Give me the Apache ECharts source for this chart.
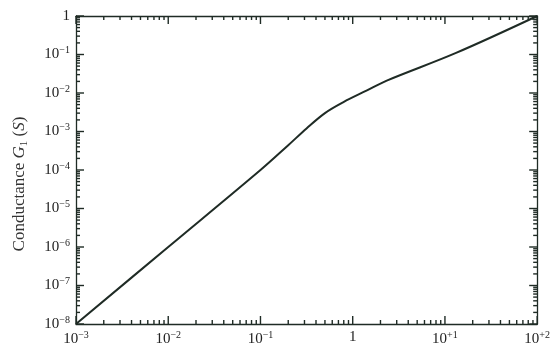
<!DOCTYPE html>
<html>
<head>
<meta charset="utf-8">
<script src="https://cdn.jsdelivr.net/npm/echarts@6/dist/echarts.min.js"></script>
<style>
html,body{margin:0;padding:0;background:#fff;}
#chart{width:553px;height:349px;}
</style>
</head>
<body>
<div id="chart"></div>
<script>
// Frequency (x) and conductance G1 (y)
const frequency   = [0.001, 0.01, 0.1, 0.2, 0.316, 0.5, 0.794, 1.41, 2.34, 13.2, 100];
const conductance = [1e-8, 1e-6, 1e-4, 4.4e-4, 1.2e-3, 3.0e-3, 5.8e-3, 1.15e-2, 2.1e-2, 0.11, 1.0];

// Tick labels (exponent part; '' means plain "1")
const xTickExps = ['−3', '−2', '−1', '', '+1', '+2'];
const yTickExps = ['−8', '−7', '−6', '−5', '−4', '−3', '−2', '−1', ''];
const yAxisTitle = 'Conductance ';

const X_MIN = 0.001, X_MAX = 100, Y_MIN = 1e-8, Y_MAX = 1;
const FONT = 'Liberation Serif';
const ink = '#1f2b25';

function decades(minExp, maxExp) {
  const out = [];
  for (let k = minExp; k <= maxExp; k++) out.push(Math.pow(10, k));
  return out;
}
// minor tick values 2..9 x 10^k inside each axis range
function minorValues(minExp, maxExp) {
  const out = [];
  for (let k = minExp; k < maxExp; k++) {
    for (let m = 2; m <= 9; m++) out.push(Number((m * Math.pow(10, k)).toPrecision(3)));
  }
  return out;
}
const xMajor = decades(-3, 2), yMajor = decades(-8, 0);
const xMinor = minorValues(-3, 2), yMinor = minorValues(-8, 0);

function expLabel(exps, minExp) {
  return function (v) {
    const k = Math.round(Math.log10(v)) - minExp;
    const e = exps[k];
    if (e === undefined) return '';
    if (e === '') return '{b|1}';
    return '{b|10}{s|' + e + '}';
  };
}
const rich = {
  b: { fontFamily: FONT, fontSize: 15, color: '#222' },
  s: { fontFamily: FONT, fontSize: 10, color: '#222', padding: [0, 0, 8, 0] }
};

function axis(pos, min, max, extra) {
  return Object.assign({
    type: 'log',
    logBase: 10,
    position: pos, min: min, max: max,
    axisLine: { show: true, lineStyle: { color: ink, width: 1.3 } },
    axisTick: { show: false },
    axisLabel: { show: false },
    minorTick: { show: false },
    splitLine: { show: false },
    minorSplitLine: { show: false }
  }, extra || {});
}

const chart = echarts.init(document.getElementById('chart'));
chart.setOption({
  animation: false,
  backgroundColor: '#fff',
  grid: { left: 76, right: 11, top: 16, bottom: 25, containLabel: false },
  xAxis: [
    axis('bottom', X_MIN, X_MAX, {
      axisLabel: { show: true, formatter: expLabel(xTickExps, -3), rich: rich, margin: 6, showMinLabel: true, showMaxLabel: true }
    }),
    axis('top', X_MIN, X_MAX)
  ],
  yAxis: [
    axis('left', Y_MIN, Y_MAX, {
      axisLabel: { show: true, formatter: expLabel(yTickExps, -8), rich: rich, margin: 6 }
    }),
    axis('right', Y_MIN, Y_MAX)
  ],
  series: [
    {
      type: 'line',
      xAxisIndex: 0, yAxisIndex: 0,
      data: frequency.map((f, i) => [f, conductance[i]]),
      smooth: 0.35,
      showSymbol: false,
      lineStyle: { color: ink, width: 2 }
    }
  ]
});

// Tick marks on all four sides, positioned through the axes' own scales
const px = v => chart.convertToPixel({ xAxisIndex: 0 }, v);
const py = v => chart.convertToPixel({ yAxisIndex: 0 }, v);
const xL = px(X_MIN), xR = px(X_MAX), yB = py(Y_MIN), yT = py(Y_MAX);
const tickStyle = { stroke: ink, lineWidth: 1.4 };
const elems = [];
function xTick(v, len) {
  const x = px(v);
  elems.push({ type: 'line', silent: true, z: 100, shape: { x1: x, y1: yB, x2: x, y2: yB - len }, style: tickStyle });
  elems.push({ type: 'line', silent: true, z: 100, shape: { x1: x, y1: yT, x2: x, y2: yT + len }, style: tickStyle });
}
function yTick(v, len) {
  const y = py(v);
  elems.push({ type: 'line', silent: true, z: 100, shape: { x1: xL, y1: y, x2: xL + len, y2: y }, style: tickStyle });
  elems.push({ type: 'line', silent: true, z: 100, shape: { x1: xR, y1: y, x2: xR - len, y2: y }, style: tickStyle });
}
xMajor.forEach(v => xTick(v, 8));
xMinor.forEach(v => xTick(v, 4));
yMajor.forEach(v => yTick(v, 8));
yMinor.forEach(v => yTick(v, 4));

elems.push({
  type: 'text',
  x: 20, y: 184,
  rotation: Math.PI / 2,
  style: {
    text: '{n|' + yAxisTitle + '}{i|G}{sub|1}{n| (}{i|S}{n|)}',
    align: 'center', verticalAlign: 'middle',
    rich: {
      n: { fontFamily: FONT, fontSize: 17, fill: '#333' },
      i: { fontFamily: FONT, fontSize: 17, fontStyle: 'italic', fill: '#333' },
      sub: { fontFamily: FONT, fontSize: 11, fill: '#333', padding: [8, 0, 0, 0] }
    }
  }
});
chart.setOption({ graphic: elems });
</script>
</body>
</html>
